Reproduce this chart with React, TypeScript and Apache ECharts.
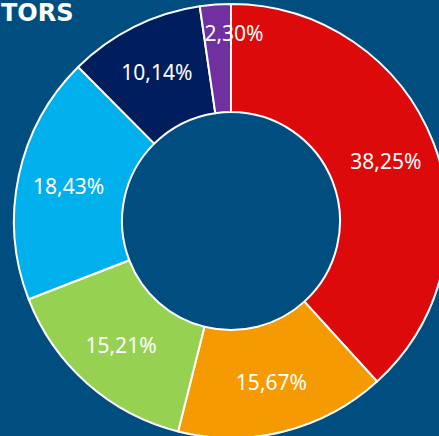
import React, { useEffect, useRef } from "react";
import * as echarts from "echarts";

const categories = ["A", "B", "C", "D", "E", "F"];
const values = [38.25, 15.67, 15.21, 18.43, 10.14, 2.3];
const labels = ["38,25%", "15,67%", "15,21%", "18,43%", "10,14%", "2,30%"];
const colors = ["#dc0a0a", "#f59a00", "#97d152", "#00b0ed", "#001e5e", "#7030a0"];
const titleText = "TORS";

export default function App() {
  const ref = useRef<HTMLDivElement>(null);
  useEffect(() => {
    document.body.style.margin = "0";
    const chart = echarts.init(ref.current!, undefined, { renderer: "svg" });
    chart.setOption({
      animation: false,
      backgroundColor: "#004e7f",
      graphic: [
        {
          type: "text",
          left: 1,
          top: 1,
          style: {
            text: titleText,
            fill: "#ffffff",
            font: "bold 24px 'DejaVu Sans'",
          },
        },
      ],
      series: [
        {
          type: "pie",
          center: [231, 221],
          radius: [109, 217],
          startAngle: 90,
          clockwise: true,
          itemStyle: { borderColor: "#ffffff", borderWidth: 2 },
          label: {
            show: true,
            position: "inside",
            color: "#ffffff",
            fontFamily: "Noto Sans",
            fontSize: 21,
            formatter: (p: any) => labels[p.dataIndex],
          },
          labelLine: { show: false },
          data: categories.map((c, i) => ({
            name: c,
            value: values[i],
            itemStyle: { color: colors[i] },
            label: i === 5 ? { offset: [15, -22] } : undefined,
          })),
        },
      ],
    });
    return () => chart.dispose();
  }, []);
  return <div ref={ref} style={{ width: 439, height: 436 }} />;
}
